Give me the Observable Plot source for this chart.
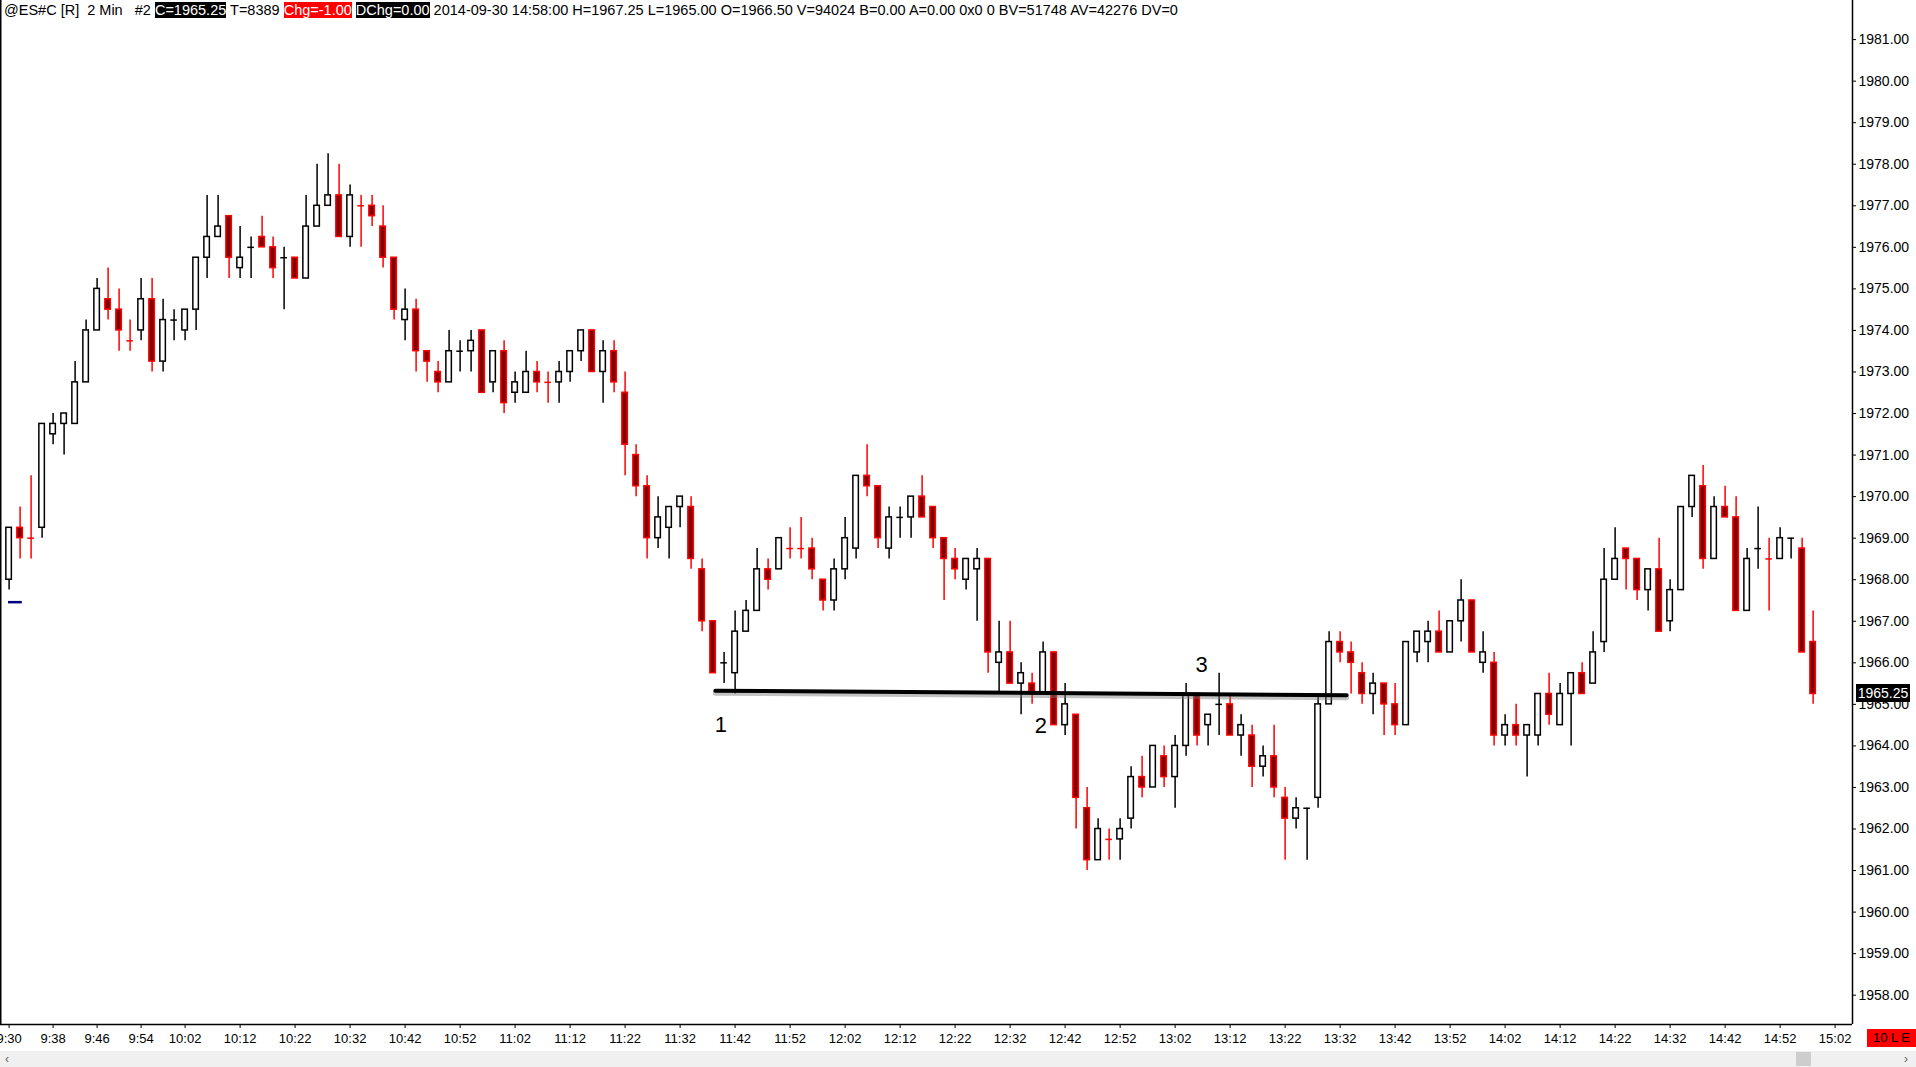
<!DOCTYPE html>
<html><head><meta charset="utf-8">
<script src="https://cdn.jsdelivr.net/npm/d3@7"></script>
<script src="https://cdn.jsdelivr.net/npm/@observablehq/plot@0.6"></script>
<style>
body{margin:0;background:#fff;}
#wrap{position:relative;width:1916px;height:1067px;overflow:hidden;font-family:"Liberation Sans",Arial,sans-serif;background:#fff;}
#chart{position:absolute;left:0;top:0;}
#hdr{position:absolute;left:4px;top:2px;font-size:14.5px;line-height:17px;white-space:pre;color:#000;}
#hdr .bk{background:#000;color:#fff;}
#hdr .rd{background:#ff0000;color:#fff;}
#last{position:absolute;left:1856px;width:54px;height:18px;background:#000;color:#fff;font-size:14px;line-height:18px;text-align:center;}
#mode{position:absolute;left:1867px;top:1029px;width:49px;height:18px;background:#ff0000;color:#000;font-size:13px;line-height:18px;text-align:center;}
#scroll{position:absolute;left:0;top:1051px;width:1916px;height:16px;background:#f0f0f0;color:#606060;font-size:12px;line-height:16px;}
#thumb{position:absolute;left:1796px;top:1px;width:15px;height:14px;background:#cdcdcd;}
</style>
</head><body>
<div id="wrap">
  <div id="chart"></div>
  <div id="hdr"></div>
  <div id="last"></div>
  <div id="mode">10 L E</div>
  <div id="scroll"><span style="position:absolute;left:5px;">&lsaquo;</span><div id="thumb"></div><span style="position:absolute;left:1904px;">&rsaquo;</span></div>
</div>
<script>
// ---- data: ES 2-minute bars, 2014-09-30, from 9:30 ----
const sessionStart = "9:30";
const barMinutes = 2;
const opens = [
1968.0,1969.25,1969.0,1969.25,1971.5,1971.75,1971.75,1972.75,1974.0,1974.75,
1974.5,1973.75,1974.0,1974.75,1973.25,1974.25,1974.0,1974.5,1975.75,1976.25,
1976.75,1975.5,1976.0,1976.25,1976.0,1975.75,1975.75,1975.25,1976.5,1977.0,
1977.25,1976.25,1977.0,1977.0,1976.5,1975.75,1974.25,1974.5,1973.5,1973.0,
1972.75,1973.5,1973.5,1974.0,1972.75,1973.5,1972.5,1972.5,1973.0,1972.75,
1972.75,1973.0,1973.5,1974.0,1973.0,1973.5,1972.5,1971.0,1970.25,1969.0,
1969.25,1969.75,1969.75,1968.25,1967.0,1966.0,1965.75,1966.75,1967.25,1968.25,
1968.25,1968.75,1968.75,1968.75,1968.0,1967.5,1968.25,1968.75,1970.5,1970.25,
1968.75,1969.5,1969.5,1970.0,1969.75,1969.0,1968.5,1968.0,1968.25,1968.5,
1966.0,1966.25,1965.5,1965.5,1965.25,1966.25,1964.5,1964.75,1962.5,1961.25,
1961.75,1961.75,1962.25,1963.25,1963.0,1963.75,1963.25,1964.0,1965.25,1964.5,
1965.0,1965.0,1964.25,1964.25,1963.5,1963.75,1962.75,1962.25,1962.5,1962.75,
1965.0,1966.5,1966.25,1965.75,1965.25,1965.5,1965.0,1964.5,1966.25,1966.5,
1966.75,1966.25,1967.0,1967.5,1966.0,1966.0,1964.25,1964.5,1964.25,1964.25,
1965.25,1964.5,1965.25,1965.75,1965.5,1966.5,1968.0,1968.75,1968.5,1967.75,
1968.25,1967.0,1967.75,1969.75,1970.25,1968.5,1969.75,1969.5,1967.25,1968.75,
1968.5,1968.5,1969.0,1968.75,1966.5];
const highs = [
1969.25,1969.75,1970.5,1971.75,1972.0,1972.0,1973.25,1974.25,1975.25,1975.5,
1975.0,1974.25,1975.25,1975.25,1974.75,1974.5,1974.5,1975.75,1977.25,1977.25,
1976.75,1976.5,1976.25,1976.75,1976.25,1976.0,1975.75,1977.25,1978.0,1978.25,
1978.0,1977.5,1977.25,1977.25,1977.0,1975.75,1975.0,1974.75,1973.5,1973.25,
1974.0,1973.75,1974.0,1974.0,1973.5,1973.75,1973.0,1973.5,1973.25,1973.0,
1973.25,1973.5,1974.0,1974.0,1973.75,1973.75,1973.0,1971.25,1970.5,1970.0,
1969.75,1970.0,1970.0,1968.5,1967.0,1966.25,1967.25,1967.5,1968.75,1968.5,
1969.0,1969.25,1969.5,1969.0,1968.0,1968.5,1969.5,1970.5,1971.25,1970.25,
1969.75,1969.75,1970.0,1970.5,1969.75,1969.0,1968.75,1968.5,1968.75,1968.5,
1967.0,1967.0,1966.0,1965.75,1966.5,1966.25,1965.5,1964.75,1963.0,1962.25,
1962.0,1962.25,1963.5,1963.75,1964.0,1964.0,1964.25,1965.5,1965.25,1964.75,
1965.75,1965.25,1964.75,1964.5,1964.0,1964.5,1963.0,1962.75,1962.5,1965.25,
1966.75,1966.75,1966.5,1966.0,1965.75,1965.5,1965.5,1966.5,1966.75,1967.0,
1967.25,1967.0,1968.0,1967.5,1966.75,1966.25,1964.75,1965.0,1964.5,1965.25,
1965.75,1965.5,1965.75,1966.0,1966.75,1968.75,1969.25,1968.75,1968.5,1968.25,
1969.0,1968.0,1969.75,1970.5,1970.75,1970.0,1970.25,1970.0,1968.75,1969.75,
1969.0,1969.25,1969.0,1969.0,1967.25];
const lows = [
1967.75,1968.5,1968.5,1969.0,1971.25,1971.0,1971.75,1972.75,1974.0,1974.25,
1973.5,1973.5,1973.75,1973.0,1973.0,1973.75,1973.75,1974.0,1975.25,1976.25,
1975.25,1975.25,1975.25,1976.0,1975.25,1974.5,1975.25,1975.25,1976.5,1977.0,
1976.25,1976.0,1976.0,1976.5,1975.5,1974.25,1973.75,1973.0,1972.75,1972.5,
1972.75,1973.0,1973.0,1972.5,1972.5,1972.0,1972.25,1972.5,1972.5,1972.25,
1972.25,1972.75,1973.25,1973.0,1972.25,1972.5,1970.5,1970.0,1968.5,1968.75,
1968.5,1969.25,1968.25,1966.75,1965.75,1965.5,1965.25,1966.75,1967.25,1967.75,
1968.25,1968.5,1968.5,1968.0,1967.25,1967.25,1968.0,1968.5,1970.0,1968.75,
1968.5,1969.0,1969.0,1969.5,1968.75,1967.5,1968.0,1967.75,1967.0,1965.75,
1965.25,1965.5,1964.75,1965.0,1965.25,1964.5,1964.25,1962.0,1961.0,1961.25,
1961.25,1961.25,1962.0,1962.75,1963.0,1963.0,1962.5,1963.75,1964.0,1964.0,
1964.25,1964.25,1963.75,1963.0,1963.25,1962.75,1961.25,1962.0,1961.25,1962.5,
1965.0,1966.0,1965.25,1965.0,1964.75,1964.25,1964.25,1964.5,1966.0,1966.0,
1966.25,1966.25,1966.5,1966.25,1965.75,1964.0,1964.0,1964.0,1963.25,1964.0,
1964.5,1964.5,1964.0,1965.25,1965.5,1966.25,1968.0,1967.75,1967.5,1967.25,
1966.75,1966.75,1967.75,1969.5,1968.25,1968.5,1969.5,1967.25,1967.25,1968.25,
1967.25,1968.5,1968.5,1966.25,1965.0];
const closes = [
1969.25,1969.0,1969.0,1971.75,1971.75,1972.0,1972.75,1974.0,1975.0,1974.5,
1974.0,1973.75,1974.75,1973.25,1974.25,1974.25,1974.5,1975.75,1976.25,1976.5,
1975.75,1975.75,1976.0,1976.0,1975.5,1975.75,1975.25,1976.5,1977.0,1977.25,
1976.25,1977.25,1977.0,1976.75,1975.75,1974.5,1974.5,1973.5,1973.25,1972.75,
1973.5,1973.5,1973.75,1972.5,1973.5,1972.25,1972.75,1973.0,1972.75,1972.75,
1973.0,1973.5,1974.0,1973.0,1973.5,1972.75,1971.25,1970.25,1969.0,1969.5,
1969.75,1970.0,1968.5,1967.0,1965.75,1966.0,1966.75,1967.25,1968.25,1968.0,
1969.0,1968.75,1968.75,1968.25,1967.5,1968.25,1969.0,1970.5,1970.25,1969.0,
1969.5,1969.5,1970.0,1969.5,1969.0,1968.5,1968.25,1968.5,1968.5,1966.25,
1966.25,1965.5,1965.75,1965.25,1966.25,1964.5,1965.0,1962.75,1961.25,1962.0,
1961.75,1962.0,1963.25,1963.0,1964.0,1963.25,1964.0,1965.25,1964.25,1964.75,
1965.0,1964.25,1964.5,1963.5,1963.75,1963.0,1962.25,1962.5,1962.5,1965.0,
1966.5,1966.25,1966.0,1965.25,1965.5,1965.0,1964.5,1966.5,1966.75,1966.75,
1966.25,1967.0,1967.5,1966.25,1966.25,1964.25,1964.5,1964.25,1964.5,1965.25,
1964.75,1965.25,1965.75,1965.25,1966.25,1968.0,1968.5,1968.5,1967.75,1968.25,
1966.75,1967.75,1969.75,1970.5,1968.5,1969.75,1969.5,1967.25,1968.5,1968.75,
1968.5,1969.0,1969.0,1966.25,1965.25];
// unchanged (doji) bars that the platform paints in the down colour
const redDojiBars = [2,11,32,49,71,72,100,160];
// time-axis labels
const timeLabels = ["9:30","9:38","9:46","9:54","10:02","10:12","10:22","10:32","10:42","10:52",
"11:02","11:12","11:22","11:32","11:42","11:52","12:02","12:12","12:22","12:32","12:42","12:52",
"13:02","13:12","13:22","13:32","13:42","13:52","14:02","14:12","14:22","14:32","14:42","14:52","15:02"];
const priceTicks = [1958,1959,1960,1961,1962,1963,1964,1965,1966,1967,1968,1969,1970,1971,1972,1973,1974,1975,1976,1977,1978,1979,1980,1981];
// annotations (bar index, price)
const supportLine = [{bar:64.2, price:1965.33},{bar:121.6, price:1965.22}];
const pointLabels = [{text:"1", bar:64.7, price:1964.5},{text:"2", bar:93.8, price:1964.47},{text:"3", bar:108.4, price:1965.94}];
const prevCloseMarker = [{bar1:-0.05, bar2:1.2, price:1967.46}];
const quote = {symbol:"@ES#C [R]", interval:"2 Min", id:"#2", T:8389, chg:"-1.00", dchg:"0.00",
  date:"2014-09-30 14:58:00", V:94024, B:"0.00", A:"0.00", extra:"0x0 0", BV:51748, AV:42276, DV:0};

// ---- build ----
const toBar = s => { const [h,m] = s.split(":").map(Number); const [h0,m0] = sessionStart.split(":").map(Number); return ((h*60+m)-(h0*60+m0))/barMinutes; };
const tickBars = timeLabels.map(toBar);
const labelByBar = new Map(tickBars.map((b,i)=>[b,timeLabels[i]]));

const bars = opens.map((o,i)=>{
  const c = closes[i];
  const up = c > o ? true : c < o ? false : !redDojiBars.includes(i);
  return {i, o, h:highs[i], l:lows[i], c, up, doji: c === o};
});
const HW = 0.25;
const xDomain = [-0.782, 167.58];
const yDomain = [1957.295, 1981.941];
const W = 1916, H = 1050;

const chart = Plot.plot({
  width: W, height: H,
  marginLeft: 0, marginRight: 64, marginTop: 0, marginBottom: 26,
  x: {domain: xDomain},
  y: {domain: yDomain},
  style: {fontFamily: '"Liberation Sans", Arial, sans-serif', color: "#000", background: "#fff", overflow: "hidden"},
  marks: [
    Plot.ruleY(prevCloseMarker, {x1:"bar1", x2:"bar2", y:"price", stroke:"#000080", strokeWidth:2.5}),
    Plot.ruleX(bars, {x:"i", y1:"l", y2:"h", stroke: d => d.up ? "#000" : "#ff0000", strokeWidth:1.5}),
    Plot.rect(bars.filter(d=>!d.doji), {x1: d=>d.i-HW, x2: d=>d.i+HW, y1:"o", y2:"c",
      fill: d => d.up ? "#fff" : "#800000", stroke: d => d.up ? "#000" : "#ff0000", strokeWidth:1.5}),
    Plot.ruleY(bars.filter(d=>d.doji), {x1: d=>d.i-HW-0.05, x2: d=>d.i+HW+0.05, y:"c", stroke: d => d.up ? "#000" : "#ff0000", strokeWidth:1.5}),
    Plot.line(supportLine, {x:"bar", y:"price", stroke:"#777", strokeWidth:5, strokeOpacity:0.45, dy:2.5}),
    Plot.line(supportLine, {x:"bar", y:"price", stroke:"#000", strokeWidth:4}),
    Plot.text(pointLabels, {x:"bar", y:"price", text:"text", fontSize:22, fill:"#000"}),
    Plot.ruleX([xDomain[1]], {stroke:"#000", strokeWidth:1.5}),
    Plot.ruleX([xDomain[0]], {stroke:"#000", strokeWidth:2}),
    Plot.ruleY([yDomain[0]], {stroke:"#000", strokeWidth:1.5}),
    Plot.axisY(priceTicks, {anchor:"right", tickSize:3, tickPadding:3, tickFormat: d => d.toFixed(2), fontSize:14, label:null}),
    Plot.axisX(tickBars, {anchor:"bottom", tickSize:4, tickPadding:5.5, tickFormat: d => labelByBar.get(d), fontSize:13, label:null})
  ]
});
document.getElementById("chart").appendChild(chart);

const last = bars[bars.length-1];
const f2 = v => v.toFixed(2);
document.getElementById("hdr").innerHTML =
  `${quote.symbol}  ${quote.interval}   ${quote.id} <span class="bk">C=${f2(last.c)}</span> T=${quote.T} <span class="rd">Chg=${quote.chg}</span> <span class="bk">DChg=${quote.dchg}</span> ${quote.date} H=${f2(last.h)} L=${f2(last.l)} O=${f2(last.o)} V=${quote.V} B=${quote.B} A=${quote.A} ${quote.extra} BV=${quote.BV} AV=${quote.AV} DV=${quote.DV}`;
const lastEl = document.getElementById("last");
lastEl.textContent = f2(last.c);
lastEl.style.top = (chart.scale("y").apply(last.c) - 9) + "px";
</script>
</body></html>
